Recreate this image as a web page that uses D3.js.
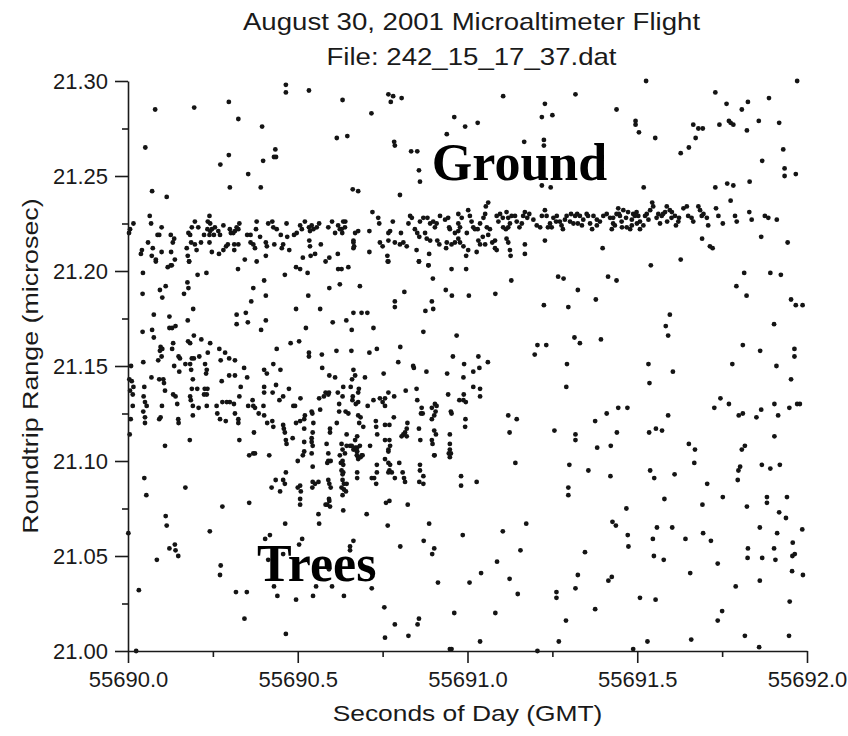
<!DOCTYPE html>
<html>
<head>
<meta charset="utf-8">
<script src="https://cdn.jsdelivr.net/npm/d3@7"></script>
<style>
  html, body { margin: 0; padding: 0; background: #fff; }
  svg { display: block; }
</style>
</head>
<body>
<svg id="chart" width="848" height="736"></svg>
<script>
// ---- text ----
const titleLines = ["August 30, 2001 Microaltimeter Flight", "File: 242_15_17_37.dat"];
const xAxisTitle = "Seconds of Day (GMT)";
const yAxisTitle = "Roundtrip Range (microsec)";

// ---- axes ----
const xDomain = [55690.0, 55692.0];
const yDomain = [21.00, 21.30];
const xMajorTicks = [55690.0, 55690.5, 55691.0, 55691.5, 55692.0];
const xMinorTicks = [55690.25, 55690.75, 55691.25, 55691.75];
const yMajorTicks = [21.00, 21.05, 21.10, 21.15, 21.20, 21.25, 21.30];
const yMinorTicks = [21.025, 21.075, 21.125, 21.175, 21.225, 21.275];

// ---- laser returns: [seconds after startSecond, roundtrip range in microsec] ----
const startSecond = 55690;

const returnsUpper = [
[0.465,21.298],[0.465,21.294],[0.533,21.295],[0.080,21.285],[0.195,21.286],[0.297,21.289],[0.632,21.290],[0.325,21.280],[0.395,21.276],[0.615,21.270],[0.646,21.271],[0.051,21.265],[0.297,21.261],[0.272,21.256],[0.434,21.264],[0.430,21.260],[0.436,21.260],[0.398,21.258],[0.354,21.251],[0.071,21.242],[0.114,21.239],[0.300,21.244],[0.391,21.244],[0.662,21.243],[0.678,21.242],[0.064,21.229],
[0.016,21.225],[0.006,21.222],[0.003,21.220],[0.068,21.225],[0.059,21.215],[0.041,21.211],[0.038,21.209],[0.073,21.212],[0.070,21.208],[0.082,21.206],[0.087,21.219],[0.092,21.219],[0.099,21.223],[0.099,21.210],[0.126,21.219],[0.136,21.217],[0.132,21.215],[0.127,21.210],[0.138,21.206],[0.117,21.202],[0.126,21.203],[0.173,21.212],[0.176,21.208],[0.180,21.205],[0.178,21.220],[0.183,21.219],[0.188,21.223],[0.197,21.226],[0.207,21.223],[0.186,21.215],[0.197,21.214],[0.202,21.211],[0.215,21.215],[0.224,21.219],[0.235,21.226],[0.240,21.229],[0.242,21.225],[0.234,21.222],[0.242,21.221],[0.247,21.222],[0.256,21.223],[0.240,21.219],[0.253,21.219],[0.240,21.215],[0.247,21.210],[0.268,21.209],[0.266,21.221],[0.271,21.219],[0.281,21.224],[0.281,21.211],[0.289,21.213],[0.294,21.214],[0.300,21.222],[0.303,21.220],[0.315,21.221],[0.320,21.223],[0.328,21.225],[0.325,21.222],[0.310,21.220],[0.313,21.214],[0.325,21.214],[0.313,21.211],[0.324,21.201],[0.344,21.206],[0.351,21.219],[0.361,21.219],[0.361,21.215],[0.369,21.214],[0.379,21.226],[0.377,21.222],[0.374,21.212],[0.379,21.205],[0.389,21.218],[0.406,21.215],[0.409,21.213],[0.406,21.208],[0.413,21.225],[0.425,21.226],[0.428,21.223],[0.438,21.222],[0.431,21.214],[0.450,21.219],[0.453,21.212],[0.457,21.214],[0.467,21.225],[0.469,21.218],[0.475,21.211],[0.489,21.219],[0.497,21.220],[0.495,21.202],[0.507,21.201],[0.507,21.224],[0.512,21.222],[0.521,21.226],[0.515,21.207],[0.533,21.223],[0.541,21.224],[0.536,21.221],[0.546,21.222],[0.556,21.223],[0.563,21.225],[0.534,21.216],[0.536,21.213],[0.538,21.208],[0.551,21.209],[0.568,21.214],[0.582,21.205],[0.593,21.207],[0.590,21.223],[0.601,21.226],[0.610,21.220],[0.624,21.222],[0.619,21.224],[0.631,21.220],[0.640,21.226],[0.618,21.209],[0.619,21.201],[0.629,21.201],[0.649,21.202],[0.664,21.215],[0.664,21.212],[0.669,21.220],[0.678,21.221],
[0.767,21.293],[0.781,21.292],[0.774,21.289],[0.806,21.291],[0.717,21.283],[1.105,21.292],[1.318,21.293],[1.228,21.288],[1.219,21.281],[1.250,21.282],[0.961,21.281],[0.993,21.276],[1.030,21.278],[0.939,21.272],[0.784,21.268],[0.786,21.266],[0.834,21.263],[0.852,21.263],[1.167,21.268],[1.225,21.269],[1.225,21.266],[0.857,21.253],[0.860,21.247],[1.219,21.245],[1.245,21.244],[0.801,21.240],
[0.720,21.231],[0.634,21.226],[0.639,21.223],[0.629,21.222],[0.664,21.216],[0.666,21.213],[0.711,21.221],[0.711,21.210],[0.737,21.228],[0.740,21.225],[0.742,21.215],[0.750,21.213],[0.767,21.216],[0.772,21.221],[0.767,21.220],[0.780,21.226],[0.764,21.208],[0.767,21.205],[0.786,21.215],[0.801,21.214],[0.811,21.215],[0.804,21.220],[0.821,21.213],[0.831,21.229],[0.836,21.228],[0.826,21.225],[0.845,21.222],[0.852,21.220],[0.858,21.218],[0.860,21.226],[0.870,21.228],[0.882,21.228],[0.890,21.225],[0.899,21.226],[0.904,21.223],[0.909,21.225],[0.850,21.211],[0.857,21.205],[0.887,21.209],[0.885,21.203],[0.875,21.220],[0.880,21.217],[0.890,21.216],[0.911,21.216],[0.917,21.214],[0.919,21.229],[0.934,21.227],[0.943,21.228],[0.948,21.222],[0.946,21.223],[0.963,21.220],[0.973,21.221],[0.978,21.223],[0.973,21.225],[0.973,21.230],[0.983,21.228],[0.937,21.212],[0.939,21.215],[0.953,21.214],[0.963,21.215],[0.973,21.217],[0.978,21.215],[0.988,21.213],[0.996,21.208],[1.002,21.211],[1.002,21.232],[1.007,21.229],[1.012,21.226],[1.017,21.223],[1.022,21.222],[0.998,21.220],[1.030,21.222],[1.037,21.225],[1.047,21.228],[1.052,21.230],[1.054,21.234],[1.061,21.236],[1.057,21.223],[1.066,21.222],[1.061,21.219],[1.032,21.216],[1.037,21.214],[1.045,21.218],[1.052,21.214],[1.027,21.210],[1.073,21.215],[1.081,21.212],[1.086,21.211],[1.081,21.216],[1.086,21.229],[1.091,21.226],[1.096,21.230],[1.104,21.228],[1.105,21.223],[1.113,21.222],[1.120,21.223],[1.125,21.225],[1.120,21.228],[1.115,21.231],[1.130,21.229],[1.115,21.217],[1.120,21.215],[1.125,21.211],[1.127,21.208],[1.140,21.229],[1.145,21.226],[1.153,21.223],[1.160,21.225],[1.164,21.229],[1.169,21.231],[1.176,21.228],[1.182,21.230],[1.169,21.214],[1.169,21.209],[1.194,21.227],[1.204,21.224],[1.214,21.223],[1.219,21.229],[1.228,21.232],[1.233,21.229],[1.243,21.225],[1.248,21.223],[1.253,21.228],[1.228,21.216],[1.263,21.229],[1.272,21.226],[1.277,21.224],[1.287,21.227],[1.292,21.229],[1.302,21.226],[1.312,21.225],[1.317,21.229],[1.323,21.230],[0.953,21.201],[0.996,21.201],
[1.237,21.223],[1.261,21.226],[1.281,21.222],[1.305,21.230],[1.325,21.225],
[1.526,21.300],[1.971,21.300],[1.730,21.294],[1.439,21.285],[1.763,21.288],[1.808,21.285],[1.826,21.289],[1.888,21.291],[1.495,21.279],[1.495,21.277],[1.505,21.273],[1.553,21.270],[1.665,21.277],[1.680,21.275],[1.693,21.275],[1.742,21.277],[1.770,21.279],[1.775,21.278],[1.783,21.277],[1.823,21.274],[1.858,21.279],[1.918,21.278],[1.672,21.270],[1.628,21.262],[1.652,21.265],[1.930,21.264],[1.868,21.258],[1.934,21.254],[1.934,21.250],[1.967,21.251],[1.519,21.244],[1.730,21.244],[1.765,21.246],[1.783,21.245],[1.831,21.247],[1.544,21.236],[1.775,21.237],[1.398,21.212],[1.540,21.203],[1.628,21.206],[1.691,21.217],[1.714,21.213],[1.722,21.212],[1.865,21.218],[1.943,21.215],
[1.331,21.229],[1.341,21.227],[1.351,21.230],[1.361,21.225],[1.371,21.229],[1.381,21.224],[1.390,21.226],[1.400,21.229],[1.410,21.230],[1.420,21.228],[1.425,21.222],[1.429,21.225],[1.439,21.230],[1.444,21.233],[1.449,21.229],[1.454,21.226],[1.459,21.232],[1.469,21.223],[1.479,21.222],[1.484,21.227],[1.488,21.230],[1.498,21.231],[1.503,21.229],[1.508,21.226],[1.518,21.224],[1.523,21.229],[1.528,21.230],[1.533,21.227],[1.538,21.232],[1.547,21.234],[1.557,21.228],[1.562,21.230],[1.572,21.229],[1.582,21.231],[1.587,21.234],[1.596,21.232],[1.601,21.228],[1.611,21.229],[1.621,21.226],[1.636,21.233],[1.646,21.234],[1.650,21.229],[1.660,21.228],[1.665,21.226],[1.680,21.234],[1.685,21.232],[1.690,21.229],[1.695,21.230],[1.705,21.228],[1.709,21.224],[1.732,21.233],[1.739,21.229],[1.752,21.225],[1.788,21.229],[1.793,21.226],[1.830,21.231],[1.837,21.227],[1.876,21.229],[1.886,21.228],[1.911,21.227],
[1.337,21.224],[1.355,21.229],[1.367,21.222],[1.381,21.227],[1.429,21.228],[1.434,21.224],[1.446,21.230],[1.455,21.223],[1.467,21.228],[1.473,21.231],[1.484,21.224],[1.493,21.229],[1.499,21.225],[1.508,21.222],[1.567,21.225],[1.576,21.230],[1.588,21.226],[1.602,21.231],[1.614,21.224],[1.623,21.228]
];

const returnsMiddle = [
[0.082,21.205],[0.180,21.205],[0.129,21.203],[0.044,21.199],[0.205,21.198],[0.231,21.199],[0.529,21.199],[0.462,21.198],[0.043,21.188],[0.094,21.190],[0.111,21.192],[0.101,21.186],[0.175,21.194],[0.178,21.191],[0.165,21.188],[0.401,21.195],[0.369,21.191],[0.406,21.187],[0.531,21.187],[0.593,21.191],[0.624,21.193],[0.683,21.192],[0.076,21.177],[0.122,21.176],[0.192,21.180],[0.363,21.184],[0.320,21.177],[0.320,21.172],[0.347,21.178],[0.353,21.173],[0.406,21.174],[0.392,21.169],[0.495,21.180],[0.566,21.180],[0.603,21.173],[0.643,21.174],[0.664,21.178],[0.659,21.169],[0.524,21.170],[0.043,21.168],[0.071,21.169],[0.076,21.165],[0.122,21.170],[0.130,21.170],[0.140,21.171],[0.176,21.174],[0.194,21.166],[0.177,21.163],[0.183,21.162],[0.216,21.164],[0.242,21.162],[0.096,21.160],[0.094,21.158],[0.101,21.159],[0.133,21.162],[0.130,21.159],[0.149,21.155],[0.153,21.154],[0.099,21.155],[0.089,21.153],[0.045,21.152],[0.210,21.155],[0.235,21.157],[0.188,21.154],[0.194,21.154],[0.183,21.151],[0.169,21.151],[0.269,21.159],[0.286,21.157],[0.298,21.154],[0.315,21.153],[0.273,21.153],[0.136,21.150],[0.151,21.147],[0.186,21.148],[0.191,21.143],[0.227,21.151],[0.232,21.148],[0.230,21.146],[0.276,21.142],[0.298,21.145],[0.315,21.145],[0.342,21.149],[0.351,21.144],[0.438,21.159],[0.479,21.162],[0.504,21.163],[0.533,21.157],[0.533,21.155],[0.571,21.156],[0.614,21.158],[0.658,21.158],[0.428,21.151],[0.401,21.148],[0.409,21.146],[0.449,21.148],[0.572,21.149],[0.593,21.145],[0.610,21.144],[0.664,21.148],[0.669,21.145],[0.660,21.143],[0.009,21.150],[0.004,21.143],[0.011,21.142],[0.016,21.139],[0.006,21.137],[0.014,21.135],[0.069,21.144],[0.048,21.139],[0.104,21.143],[0.092,21.143],[0.106,21.141],[0.109,21.137],[0.046,21.134],[0.050,21.131],[0.055,21.129],[0.014,21.129],[0.008,21.122],[0.005,21.114],[0.045,21.126],[0.050,21.123],[0.050,21.120],[0.100,21.129],[0.092,21.122],[0.096,21.123],[0.133,21.135],[0.140,21.134],[0.145,21.130],[0.148,21.122],[0.149,21.120],[0.109,21.108],[0.182,21.111],[0.188,21.138],[0.183,21.134],[0.185,21.132],[0.191,21.129],[0.204,21.138],[0.226,21.138],[0.234,21.138],[0.232,21.135],[0.224,21.135],[0.208,21.128],[0.232,21.129],[0.191,21.124],[0.261,21.129],[0.278,21.131],[0.291,21.131],[0.300,21.131],[0.312,21.130],[0.263,21.125],[0.271,21.122],[0.288,21.121],[0.315,21.125],[0.325,21.122],[0.325,21.120],[0.332,21.139],[0.328,21.134],[0.354,21.129],[0.367,21.132],[0.369,21.129],[0.374,21.128],[0.399,21.129],[0.385,21.125],[0.401,21.124],[0.401,21.139],[0.401,21.136],[0.426,21.136],[0.436,21.140],[0.457,21.134],[0.446,21.132],[0.474,21.138],[0.487,21.129],[0.492,21.129],[0.508,21.133],[0.410,21.120],[0.425,21.121],[0.428,21.118],[0.371,21.115],[0.328,21.111],[0.357,21.103],[0.369,21.104],[0.374,21.104],[0.416,21.103],[0.457,21.119],[0.459,21.117],[0.462,21.115],[0.465,21.111],[0.467,21.109],[0.495,21.120],[0.507,21.121],[0.519,21.122],[0.521,21.124],[0.485,21.112],[0.519,21.117],[0.541,21.126],[0.543,21.125],[0.546,21.120],[0.544,21.115],[0.519,21.110],[0.519,21.105],[0.515,21.103],[0.541,21.112],[0.541,21.110],[0.544,21.108],[0.541,21.104],[0.563,21.133],[0.577,21.134],[0.582,21.136],[0.592,21.136],[0.590,21.135],[0.566,21.127],[0.595,21.117],[0.595,21.115],[0.585,21.109],[0.590,21.104],[0.618,21.136],[0.632,21.134],[0.634,21.139],[0.656,21.139],[0.662,21.134],[0.622,21.130],[0.622,21.126],[0.649,21.125],[0.615,21.120],[0.671,21.130],[0.678,21.136],[0.644,21.114],[0.675,21.113],[0.669,21.111],[0.629,21.109],[0.632,21.106],[0.639,21.104],[0.654,21.108],[0.664,21.106],[0.675,21.107],[0.683,21.108],
[0.765,21.205],[0.857,21.205],[0.885,21.203],[0.898,21.196],[0.814,21.189],[0.936,21.190],[0.954,21.187],[1.004,21.187],[1.082,21.188],[1.129,21.195],[1.267,21.197],[1.283,21.196],[1.325,21.190],[0.786,21.184],[0.786,21.181],[0.895,21.184],[0.899,21.180],[0.876,21.179],[0.688,21.178],[0.705,21.178],[1.225,21.182],[1.297,21.181],[0.723,21.170],[0.870,21.168],[0.968,21.166],[1.315,21.165],[1.331,21.162],[0.711,21.157],[0.733,21.159],[0.802,21.160],[1.206,21.161],[1.232,21.161],[1.198,21.156],[0.957,21.155],[1.032,21.155],[1.060,21.152],[0.796,21.152],[0.840,21.150],[0.842,21.149],[0.753,21.146],[0.879,21.147],[0.940,21.146],[0.990,21.151],[0.988,21.144],[1.017,21.147],[1.035,21.149],[1.293,21.151],[0.698,21.144],[0.680,21.138],[0.818,21.137],[0.850,21.138],[1.017,21.139],[1.037,21.138],[1.037,21.134],[0.943,21.135],[0.989,21.135],[0.976,21.132],[0.988,21.132],[0.995,21.131],[1.291,21.139],[0.661,21.132],[0.678,21.131],[0.706,21.129],[0.723,21.132],[0.742,21.133],[0.757,21.133],[0.767,21.136],[0.784,21.134],[0.750,21.131],[0.757,21.129],[0.641,21.126],[0.852,21.132],[0.865,21.128],[0.868,21.125],[0.863,21.125],[0.895,21.128],[0.904,21.130],[0.909,21.129],[0.906,21.126],[0.902,21.124],[0.895,21.122],[0.951,21.126],[0.953,21.125],[0.994,21.122],[0.993,21.118],[1.120,21.124],[1.145,21.122],[1.124,21.115],[1.256,21.116],[1.318,21.114],[1.318,21.111],[0.678,21.124],[0.685,21.123],[0.681,21.120],[0.693,21.118],[0.730,21.121],[0.731,21.118],[0.757,21.119],[0.770,21.119],[0.783,21.123],[0.823,21.120],[0.821,21.117],[0.816,21.115],[0.811,21.114],[0.806,21.113],[0.821,21.113],[0.857,21.117],[0.861,21.111],[0.902,21.116],[0.907,21.114],[0.895,21.111],[0.897,21.109],[0.948,21.114],[0.948,21.109],[0.948,21.106],[0.951,21.104],[0.945,21.104],[0.644,21.108],[0.659,21.108],[0.669,21.107],[0.675,21.105],[0.678,21.102],[0.688,21.103],[0.713,21.108],[0.734,21.114],[0.757,21.111],[0.770,21.111],[0.772,21.108],[0.767,21.105],[0.902,21.103],
[1.414,21.197],[1.439,21.195],[1.378,21.185],[1.815,21.199],[1.892,21.199],[1.923,21.198],[1.792,21.192],[1.822,21.187],[1.953,21.185],[1.967,21.182],[1.987,21.182],[1.596,21.177],[1.584,21.171],[1.591,21.166],[1.903,21.172],[1.393,21.164],[1.811,21.161],[1.862,21.158],[1.963,21.159],[1.963,21.155],[1.910,21.150],[1.533,21.151],[1.605,21.147],[1.536,21.141],[1.780,21.151],[1.953,21.143],[1.745,21.133],[1.770,21.130],[1.727,21.128],[1.904,21.130],[1.948,21.128],[1.971,21.130],[1.979,21.130],[1.865,21.127],[1.799,21.124],[1.811,21.125],[1.851,21.123],[1.915,21.124],[1.410,21.125],[1.444,21.128],[1.471,21.128],[1.376,21.121],[1.440,21.115],[1.591,21.124],[1.535,21.115],[1.555,21.117],[1.573,21.116],[1.904,21.113],[1.382,21.107],[1.422,21.108],[1.652,21.109],[1.670,21.106],[1.808,21.106],[1.817,21.108]
];

const returnsLower = [
[0.500,21.100],[0.544,21.097],[0.590,21.100],[0.597,21.100],[0.587,21.099],[0.624,21.103],[0.632,21.100],[0.634,21.098],[0.627,21.099],[0.674,21.103],[0.678,21.101],[0.675,21.094],[0.048,21.091],[0.054,21.082],[0.169,21.086],[0.435,21.090],[0.423,21.086],[0.448,21.084],[0.457,21.090],[0.465,21.094],[0.462,21.088],[0.500,21.086],[0.507,21.087],[0.509,21.084],[0.507,21.080],[0.507,21.077],[0.544,21.089],[0.551,21.088],[0.561,21.089],[0.543,21.086],[0.590,21.090],[0.593,21.088],[0.597,21.086],[0.592,21.080],[0.593,21.079],[0.587,21.077],[0.595,21.076],[0.582,21.077],[0.634,21.094],[0.632,21.090],[0.636,21.088],[0.644,21.088],[0.629,21.086],[0.636,21.085],[0.642,21.084],[0.632,21.082],[0.634,21.074],[0.675,21.091],[0.357,21.078],[0.278,21.076],[0.111,21.071],[0.114,21.066],[0.241,21.063],[0.463,21.067],[0.561,21.072],[0.563,21.067],[0.404,21.059],[0.418,21.061],[0.513,21.059],[0.504,21.056],[0.664,21.058],[0.654,21.055],[0.654,21.053],[0.122,21.054],[0.138,21.056],[0.140,21.053],[0.148,21.050],[0.085,21.048],[0.413,21.048],[0.457,21.051],[0.273,21.045],[0.271,21.040],[0.592,21.043],[0.032,21.032],[0.318,21.031],[0.350,21.031],[0.430,21.034],[0.440,21.029],[0.495,21.027],[0.545,21.029],[0.554,21.034],[0.601,21.034],[0.636,21.029],[0.343,21.017],[0.465,21.009],[0.024,21.000],[0.001,21.062],
[0.629,21.095],[0.632,21.093],[0.674,21.105],[0.685,21.102],[0.691,21.103],[0.718,21.091],[0.725,21.091],[0.733,21.094],[0.733,21.098],[0.731,21.088],[0.757,21.101],[0.767,21.099],[0.772,21.098],[0.770,21.095],[0.767,21.094],[0.777,21.094],[0.786,21.091],[0.799,21.099],[0.809,21.094],[0.813,21.091],[0.816,21.089],[0.767,21.106],[0.860,21.098],[0.860,21.095],[0.870,21.092],[0.858,21.089],[0.870,21.088],[0.903,21.103],[0.948,21.102],[0.981,21.092],[0.981,21.087],[1.027,21.089],[1.141,21.099],[1.300,21.098],[1.297,21.086],[1.297,21.082],[0.760,21.078],[0.770,21.079],[0.824,21.077],[0.703,21.072],[0.765,21.066],[0.887,21.067],[1.173,21.067],[1.104,21.063],[0.802,21.055],[0.871,21.058],[0.902,21.054],[0.896,21.051],[0.986,21.061],[1.156,21.053],[1.087,21.047],[1.040,21.041],[0.718,21.033],[0.913,21.036],[1.006,21.036],[1.124,21.038],[1.148,21.030],[1.325,21.040],[1.318,21.033],[1.262,21.031],[1.262,21.028],[0.755,21.023],[0.961,21.020],[1.082,21.020],[0.786,21.014],[0.857,21.017],[0.853,21.014],[1.290,21.016],[0.757,21.007],[0.826,21.008],[1.037,21.005],[1.269,21.005],[0.953,21.001],[0.948,21.001],[1.206,21.000],
[1.356,21.095],[1.421,21.092],[1.538,21.095],[1.550,21.091],[1.610,21.093],[1.668,21.099],[1.796,21.090],[1.798,21.095],[1.803,21.097],[1.867,21.098],[1.892,21.096],[1.920,21.098],[1.706,21.088],[1.580,21.080],[1.752,21.081],[1.882,21.081],[1.882,21.078],[1.941,21.081],[1.468,21.075],[1.692,21.077],[1.823,21.076],[1.918,21.073],[1.938,21.070],[1.427,21.068],[1.437,21.066],[1.558,21.065],[1.603,21.065],[1.861,21.065],[1.986,21.064],[1.472,21.061],[1.474,21.055],[1.546,21.059],[1.642,21.059],[1.694,21.062],[1.717,21.058],[1.912,21.062],[1.958,21.057],[1.346,21.052],[1.549,21.050],[1.578,21.048],[1.826,21.054],[1.825,21.049],[1.868,21.049],[1.903,21.054],[1.907,21.048],[1.957,21.050],[1.964,21.051],[1.737,21.046],[1.656,21.041],[1.956,21.042],[1.988,21.040],[1.861,21.037],[1.415,21.037],[1.425,21.039],[1.790,21.034],[1.508,21.028],[1.554,21.027],[1.376,21.022],[1.949,21.026],[1.750,21.021],[1.737,21.016],[1.817,21.008],[1.947,21.008],[1.530,21.005],[1.659,21.006],[1.488,21.001],[1.859,21.002]
];

// in-plot labels, anchored at the start of their baseline in data units
const regionLabels = [
  { text: "Ground", second: 55690.895, range: 21.248 },
  { text: "Trees",  second: 55690.380, range: 21.037 }
];

// ---- drawing ----
const svg = d3.select("#chart");
const W = 848, H = 736;
const margin = { left: 128, right: W - 807, top: 81, bottom: H - 651 };
const sans = "'Liberation Sans', Arial, Helvetica, sans-serif";
const ink = "#1a1a1a";
const plotCenterX = (margin.left + W - margin.right) / 2;

svg.append("rect").attr("width", W).attr("height", H).attr("fill", "#fff");

const x = d3.scaleLinear().domain(xDomain).range([margin.left, W - margin.right]);
const y = d3.scaleLinear().domain(yDomain).range([H - margin.bottom, margin.top]);

// title (the lettering is slightly wide, so each line is stretched horizontally)
svg.append("g").selectAll("text").data(titleLines).join("text")
  .attr("transform", (d, i) => `translate(${plotCenterX + 4},${30 + i * 35}) scale(1.15,1)`)
  .attr("text-anchor", "middle")
  .attr("font-family", sans).attr("font-size", 24)
  .attr("fill", ink)
  .text(d => d);

// points
const allReturns = [...returnsUpper, ...returnsMiddle, ...returnsLower];
svg.append("g").selectAll("circle").data(allReturns).join("circle")
  .attr("cx", d => x(startSecond + d[0]))
  .attr("cy", d => y(d[1]))
  .attr("r", 2.4)
  .attr("fill", "#141414");

// axes
function styleAxis(g) {
  g.attr("font-family", null).attr("font-size", null);
  g.selectAll("path.domain").attr("stroke", ink).attr("stroke-width", 1.6);
  g.selectAll(".tick line").attr("stroke", ink).attr("stroke-width", 1.6);
  g.selectAll(".tick text").attr("font-family", sans).attr("font-size", 22).attr("fill", ink);
}

const yAxis = svg.append("g").attr("transform", `translate(${margin.left},0)`)
  .call(d3.axisLeft(y).tickValues(yMajorTicks).tickFormat(d3.format(".2f"))
    .tickSize(13).tickSizeOuter(0).tickPadding(7));
styleAxis(yAxis);

const yMinor = svg.append("g").attr("transform", `translate(${margin.left},0)`)
  .call(d3.axisLeft(y).tickValues(yMinorTicks).tickFormat("").tickSize(6).tickSizeOuter(0));
yMinor.select("path.domain").remove();
styleAxis(yMinor);

const xAxis = svg.append("g").attr("transform", `translate(0,${H - margin.bottom})`)
  .call(d3.axisBottom(x).tickValues(xMajorTicks).tickFormat(d3.format(".1f"))
    .tickSize(12).tickSizeOuter(0).tickPadding(8));
styleAxis(xAxis);

const xMinor = svg.append("g").attr("transform", `translate(0,${H - margin.bottom})`)
  .call(d3.axisBottom(x).tickValues(xMinorTicks).tickFormat("").tickSize(6).tickSizeOuter(0));
xMinor.select("path.domain").remove();
styleAxis(xMinor);

// axis titles
svg.append("text")
  .attr("transform", `translate(${plotCenterX},721) scale(1.2,1)`)
  .attr("text-anchor", "middle")
  .attr("font-family", sans).attr("font-size", 22).attr("fill", ink)
  .text(xAxisTitle);

svg.append("text")
  .attr("transform", `translate(38,${(margin.top + H - margin.bottom) / 2}) rotate(-90) scale(1.22,1)`)
  .attr("text-anchor", "middle")
  .attr("font-family", sans).attr("font-size", 22).attr("fill", ink)
  .text(yAxisTitle);

// region labels
svg.append("g").selectAll("text").data(regionLabels).join("text")
  .attr("x", d => x(d.second))
  .attr("y", d => y(d.range))
  .attr("font-family", "'Liberation Serif', 'Times New Roman', serif")
  .attr("font-weight", "bold")
  .attr("font-size", 52)
  .attr("fill", "#000")
  .text(d => d.text);
</script>
</body>
</html>
